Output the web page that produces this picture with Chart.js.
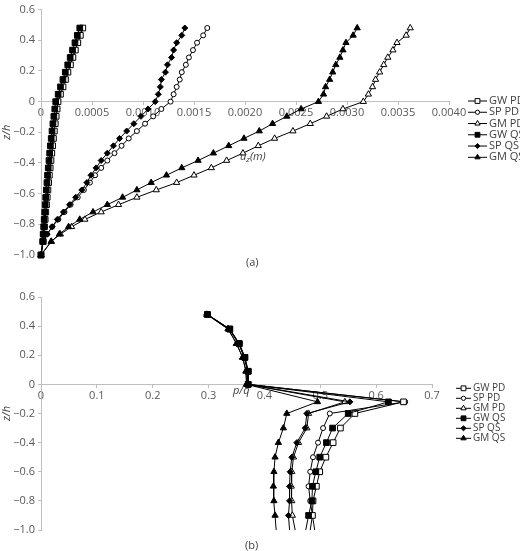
<!DOCTYPE html>
<html>
<head>
<meta charset="utf-8">
<script src="https://cdn.jsdelivr.net/npm/chart.js@4.4.0/dist/chart.umd.min.js"></script>
<style>
    html, body { margin: 0; padding: 0; background: #fff; }
    #wrap { position: relative; width: 520px; height: 551px; overflow: hidden; }
    canvas { position: absolute; left: 0; }
    #chartA { top: 0; }
    #chartB { top: 276px; }
</style>
</head>
<body>
<div id="wrap">
    <canvas id="chartA" width="520" height="276"></canvas>
    <canvas id="chartB" width="520" height="275"></canvas>
</div>
<script>
// Series names (same order in both panels)
const seriesNames = ["GW PD", "SP PD", "GM PD", "GW QS", "SP QS", "GM QS"];

// Tick labels
const zTickLabels = ["\u22121.0", "\u22120.8", "\u22120.6", "\u22120.4", "\u22120.2", "0", "0.2", "0.4", "0.6"];
const uTickLabels = ["0", "0.0005", "0.0010", "0.0015", "0.0020", "0.0025", "0.0030", "0.0035", "0.0040"];
const pTickLabels = ["0", "0.1", "0.2", "0.3", "0.4", "0.5", "0.6", "0.7"];

// (a) displacement u_z (m) against z/h
const zTop = [0.48, 0.432, 0.384, 0.336, 0.288, 0.24, 0.192, 0.144, 0.096, 0.048, 0,
    -0.048, -0.096, -0.144, -0.192, -0.24, -0.288, -0.336, -0.384, -0.432, -0.48,
    -0.528, -0.576, -0.624, -0.672, -0.72, -0.768, -0.816, -0.864, -0.912, -1.0];
const uGwPd = [0.00041, 0.000386, 0.000361, 0.000337, 0.000313, 0.000289, 0.000264, 0.00024, 0.000216, 0.000191, 0.000167,
    0.000158, 0.000149, 0.00014, 0.000131, 0.000122, 0.000114, 0.000106, 0.000098, 0.00009, 0.000082,
    0.000075, 0.000068, 0.000061, 0.000054, 0.000047, 0.000041, 0.000035, 0.000029, 0.000023, 0];
const uSpPd = [0.00163, 0.00159, 0.00153, 0.00149, 0.00145, 0.00142, 0.00138, 0.00136, 0.00133, 0.0013, 0.00127,
    0.00118, 0.0011, 0.00102, 0.00094, 0.00086, 0.00079, 0.00072, 0.00065, 0.00059, 0.00053,
    0.00048, 0.00042, 0.00036, 0.00029, 0.00023, 0.00017, 0.00011, 0.00006, 0.00002, 0];
const uGmPd = [0.00362, 0.00358, 0.00349, 0.00345, 0.0034, 0.00336, 0.00332, 0.00328, 0.00325, 0.00321, 0.00316,
    0.00296, 0.0028, 0.00264, 0.00247, 0.00229, 0.00213, 0.00198, 0.00182, 0.00167, 0.0015,
    0.00133, 0.00113, 0.00094, 0.00076, 0.00059, 0.00043, 0.0003, 0.00019, 0.0001, 0];
const uGwQs = [0.00038, 0.000356, 0.000333, 0.000309, 0.000286, 0.000262, 0.000238, 0.000215, 0.000191, 0.000168, 0.000144,
    0.000135, 0.000126, 0.000117, 0.000108, 0.0001, 0.000092, 0.000085, 0.000078, 0.000071, 0.000064,
    0.000058, 0.000052, 0.000046, 0.000041, 0.000036, 0.000031, 0.000026, 0.000021, 0.000016, 0];
const uSpQs = [0.00141, 0.00138, 0.00133, 0.0013, 0.00128, 0.00124, 0.00122, 0.00118, 0.00117, 0.00115, 0.00112,
    0.00105, 0.00098, 0.00091, 0.00084, 0.00077, 0.00071, 0.00065, 0.00059, 0.00054, 0.00049,
    0.00045, 0.0004, 0.00034, 0.00028, 0.00022, 0.00016, 0.00011, 0.00006, 0.00002, 0];
const uGmQs = [0.0031, 0.00306, 0.00299, 0.00296, 0.00293, 0.00289, 0.00286, 0.00283, 0.00279, 0.00277, 0.00272,
    0.00255, 0.00241, 0.00227, 0.00214, 0.00199, 0.00184, 0.00169, 0.00154, 0.00138, 0.00123,
    0.00108, 0.00094, 0.0008, 0.00065, 0.00051, 0.00038, 0.00027, 0.00018, 0.0001, 0];

// (b) pressure ratio p/q against z/h
const zBot = [0.48, 0.38, 0.28, 0.185, 0.09, 0, -0.12, -0.2, -0.3, -0.4, -0.5, -0.6, -0.7, -0.8, -0.9, -1.0];
const pGwPd = [0.298, 0.338, 0.355, 0.365, 0.371, 0.371, 0.649, 0.562, 0.536, 0.523, 0.510, 0.499, 0.493, 0.487, 0.486, 0.482];
const pSpPd = [0.298, 0.337, 0.354, 0.364, 0.370, 0.370, 0.652, 0.517, 0.505, 0.496, 0.487, 0.482, 0.479, 0.482, 0.486, 0.490];
const pGmPd = [0.297, 0.335, 0.350, 0.361, 0.367, 0.368, 0.544, 0.479, 0.476, 0.461, 0.452, 0.449, 0.448, 0.449, 0.450, 0.455];
const pGwQs = [0.298, 0.338, 0.355, 0.365, 0.371, 0.371, 0.622, 0.550, 0.522, 0.511, 0.499, 0.492, 0.486, 0.485, 0.479, 0.474];
const pSpQs = [0.297, 0.337, 0.354, 0.364, 0.370, 0.370, 0.553, 0.476, 0.473, 0.458, 0.449, 0.446, 0.445, 0.445, 0.443, 0.445];
const pGmQs = [0.297, 0.335, 0.350, 0.361, 0.367, 0.368, 0.495, 0.440, 0.434, 0.425, 0.419, 0.417, 0.416, 0.417, 0.419, 0.421];

// Marker look per series (Excel style: open = PD, filled = QS)
const markers = [
    { pointStyle: "rect", fill: "#ffffff", radius: 4 },
    { pointStyle: "circle", fill: "#ffffff", radius: 2.5 },
    { pointStyle: "triangle", fill: "#ffffff", radius: 3.6 },
    { pointStyle: "rect", fill: "#000000", radius: 4 },
    { pointStyle: "rectRot", fill: "#000000", radius: 3 },
    { pointStyle: "triangle", fill: "#000000", radius: 3.6 },
];

const FONT = "'Open Sans', 'Noto Sans', sans-serif";
const AXIS_GREY = "#bfbfbf";
const TICK_TEXT = "#595959";
const LABEL_TEXT = "#404040";

// Legend + free text labels drawn inside the canvas
const annotatePlugin = {
    id: "annotate",
    afterDraw(chart, args, opts) {
        const ctx = chart.ctx;
        ctx.save();
        const lg = opts.legend;
        seriesNames.forEach((name, i) => {
            const y = lg.y0 + i * lg.step;
            ctx.strokeStyle = "#000";
            ctx.lineWidth = 1;
            ctx.beginPath();
            ctx.moveTo(lg.x0, y);
            ctx.lineTo(lg.x1, y);
            ctx.stroke();
            ctx.fillStyle = markers[i].fill;
            ctx.strokeStyle = "#000";
            Chart.helpers.drawPoint(ctx, {
                pointStyle: markers[i].pointStyle,
                radius: markers[i].radius * 0.85,
                borderWidth: 1,
                rotation: 0,
            }, (lg.x0 + lg.x1) / 2, y);
            ctx.fillStyle = LABEL_TEXT;
            ctx.font = lg.size + "px " + FONT;
            ctx.textAlign = "left";
            ctx.textBaseline = "middle";
            ctx.fillText(name, lg.x1 + 2, y);
        });
        (opts.texts || []).forEach((t) => {
            let x = t.x;
            ctx.textBaseline = "middle";
            ctx.textAlign = "left";
            ctx.fillStyle = LABEL_TEXT;
            t.parts.forEach((p) => {
                ctx.font = (p.italic ? "italic " : "") + p.size + "px " + FONT;
                ctx.fillText(p.text, x, t.y + (p.dy || 0));
                x += ctx.measureText(p.text).width;
            });
        });
        ctx.restore();
    },
};

function makePanel(canvasId, zVals, seriesVals, xCfg, lastMarker, padding, extra) {
    const datasets = seriesVals.map((vals, i) => ({
        label: seriesNames[i],
        data: zVals.map((z, k) => ({ x: vals[k], y: z })),
        showLine: true,
        borderColor: "#000000",
        borderWidth: 1,
        pointStyle: markers[i].pointStyle,
        pointBackgroundColor: markers[i].fill,
        pointBorderColor: "#000000",
        pointBorderWidth: 1,
        pointRadius: (c) => (!lastMarker && c.dataIndex === zVals.length - 1 ? 0 : markers[i].radius),
        order: i < 3 ? 1 : 0,
        clip: false,
    }));

    return new Chart(document.getElementById(canvasId).getContext("2d"), {
        type: "scatter",
        data: { datasets },
        options: {
            responsive: false,
            animation: false,
            devicePixelRatio: 1,
            layout: { padding },
            plugins: {
                legend: { display: false },
                tooltip: { enabled: false },
                annotate: extra,
            },
            scales: {
                x: {
                    type: "linear",
                    position: { y: 0 },
                    min: xCfg.min,
                    max: xCfg.max,
                    afterFit: (s) => { s.height = 0; },
                    border: { color: AXIS_GREY, width: 1 },
                    grid: { drawOnChartArea: false, drawTicks: true, tickLength: 3, color: AXIS_GREY },
                    ticks: {
                        stepSize: xCfg.step,
                        padding: 2,
                        color: TICK_TEXT,
                        font: { family: FONT, size: 11 },
                        maxRotation: 0,
                        autoSkip: false,
                        callback: (v, idx) => xCfg.labels[idx],
                    },
                },
                y: {
                    type: "linear",
                    position: "left",
                    min: -1,
                    max: 0.6,
                    afterFit: (s) => { s.width = 41; },
                    border: { color: AXIS_GREY, width: 1 },
                    grid: { drawOnChartArea: false, drawTicks: true, tickLength: 3, color: AXIS_GREY },
                    title: {
                        display: true,
                        text: "z/h",
                        color: LABEL_TEXT,
                        font: { family: FONT, size: 11, style: "italic" },
                        padding: 0,
                    },
                    ticks: {
                        stepSize: 0.2,
                        padding: 3,
                        color: TICK_TEXT,
                        font: { family: FONT, size: 11 },
                        autoSkip: false,
                        callback: (v, idx) => zTickLabels[idx],
                    },
                },
            },
        },
        plugins: [annotatePlugin],
    });
}

// Panel (a)
makePanel(
    "chartA",
    zTop,
    [uGwPd, uSpPd, uGmPd, uGwQs, uSpQs, uGmQs],
    { min: 0, max: 0.004, step: 0.0005, labels: uTickLabels },
    true,
    { left: 0, top: 6, right: 71, bottom: 21 },
    {
        legend: { x0: 468, x1: 487, y0: 101, step: 11.26, size: 11 },
        texts: [
            { x: 240, y: 157, parts: [
                { text: "u", italic: true, size: 11 },
                { text: "z", italic: true, size: 8, dy: 3 },
                { text: "(m)", italic: true, size: 11 },
            ] },
            { x: 246, y: 263, parts: [{ text: "(a)", size: 11 }] },
        ],
    }
);

// Panel (b)
makePanel(
    "chartB",
    zBot,
    [pGwPd, pSpPd, pGmPd, pGwQs, pSpQs, pGmQs],
    { min: 0, max: 0.7, step: 0.1, labels: pTickLabels },
    false,
    { left: 0, top: 21, right: 88, bottom: 21 },
    {
        legend: { x0: 456, x1: 471, y0: 112.3, step: 10, size: 10 },
        texts: [
            { x: 233, y: 115, parts: [{ text: "p/q", italic: true, size: 11 }] },
            { x: 245, y: 270, parts: [{ text: "(b)", size: 11 }] },
        ],
    }
);
</script>
</body>
</html>
